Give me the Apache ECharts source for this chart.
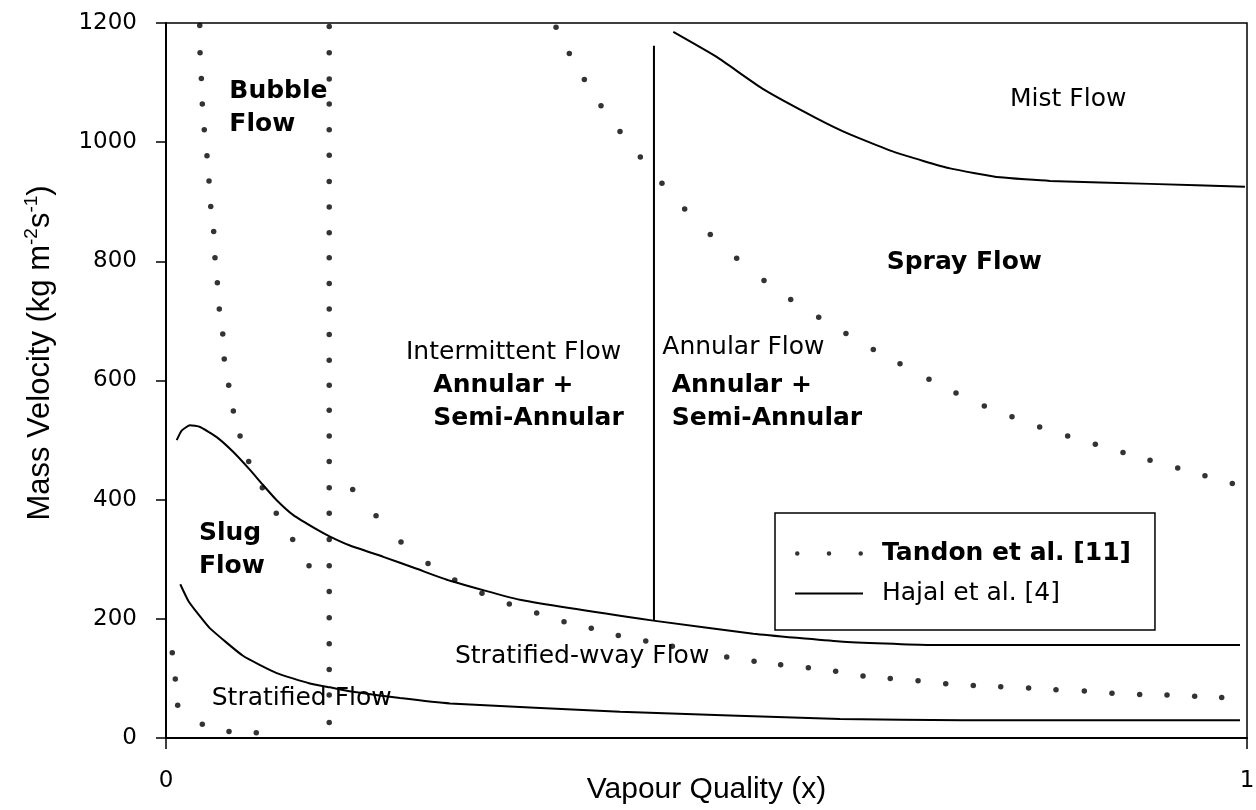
<!DOCTYPE html>
<html>
<head>
<meta charset="utf-8">
<title>Flow pattern map</title>
<script src="https://cdn.jsdelivr.net/npm/echarts@6/dist/echarts.min.js"></script>
<style>
  html, body { margin: 0; padding: 0; background: #fff; }
  #chart { width: 1256px; height: 810px; }
</style>
</head>
<body>
<div id="chart"></div>
<script>
// Tandon et al. [11] - dotted boundaries, [x, G]
const tandonBubbleEdge = [
  [0.0312, 1196], [0.0315, 1150], [0.0327, 1107], [0.0336, 1064], [0.0354, 1021],
  [0.0379, 977], [0.0398, 935], [0.0414, 892], [0.0441, 850], [0.0453, 806],
  [0.0475, 764], [0.0493, 720], [0.0525, 678], [0.0539, 636], [0.058, 592],
  [0.0623, 549], [0.0685, 507], [0.0765, 464], [0.0891, 420], [0.102, 377],
  [0.1172, 333], [0.1323, 289]
];
const tandonVertical = [
  [0.151, 1194], [0.151, 1150], [0.151, 1106], [0.151, 1064], [0.151, 1021],
  [0.151, 978], [0.151, 934], [0.151, 891], [0.151, 848], [0.151, 806],
  [0.151, 763], [0.151, 720], [0.151, 677], [0.151, 634], [0.151, 592],
  [0.151, 550], [0.151, 507], [0.151, 464], [0.151, 420], [0.151, 377],
  [0.151, 333], [0.151, 289], [0.151, 246], [0.151, 202], [0.151, 158],
  [0.151, 115], [0.151, 72], [0.151, 26]
];
const tandonWavy = [
  [0.1727, 417], [0.1943, 373], [0.2174, 329], [0.2424, 293], [0.2671, 265],
  [0.2923, 243], [0.3176, 225], [0.3429, 210], [0.3682, 195], [0.3934, 184],
  [0.4184, 172], [0.4438, 163], [0.4684, 154], [0.5187, 136], [0.544, 129],
  [0.5686, 123], [0.5942, 118], [0.6195, 112], [0.6448, 104], [0.67, 100],
  [0.6957, 96], [0.7213, 91], [0.7468, 88], [0.7722, 86], [0.798, 84],
  [0.8233, 81], [0.8495, 79], [0.8751, 75], [0.9007, 73], [0.926, 72],
  [0.9516, 70], [0.9766, 68]
];
const tandonStratified = [
  [0.0058, 143], [0.0086, 99], [0.0108, 55], [0.0336, 23], [0.0583, 11], [0.0835, 9]
];
const tandonAnnular = [
  [0.3608, 1193], [0.3731, 1149], [0.387, 1105], [0.4024, 1061], [0.42, 1018],
  [0.4388, 975], [0.4588, 931], [0.4798, 888], [0.5035, 845], [0.5279, 805],
  [0.5532, 768], [0.5779, 736], [0.6038, 706], [0.629, 679], [0.6543, 652],
  [0.679, 628], [0.7058, 602], [0.7308, 579], [0.757, 557], [0.7826, 539],
  [0.8082, 522], [0.8341, 507], [0.8597, 493], [0.8853, 479], [0.9103, 466],
  [0.9359, 453], [0.9611, 440], [0.9864, 427]
];

// Hajal et al. [4] - solid boundaries
const hajalMist = [
  [0.4693, 1185], [0.5094, 1143], [0.5525, 1089], [0.6019, 1040], [0.6327, 1013],
  [0.676, 982], [0.7253, 956], [0.7715, 941], [0.8178, 935], [0.9103, 930], [0.9981, 925]
];
const hajalIntermittent = [
  [0.0099, 500], [0.0145, 516], [0.0222, 525], [0.0315, 522], [0.0469, 505],
  [0.0623, 480], [0.0777, 450], [0.0891, 426], [0.1024, 399], [0.1178, 374],
  [0.1394, 350], [0.1517, 338], [0.1702, 323], [0.201, 304], [0.2319, 284],
  [0.2627, 264], [0.3275, 232], [0.4508, 197], [0.5433, 175], [0.6235, 162],
  [0.7068, 156], [0.9935, 156]
];
const hajalStratified = [
  [0.0132, 258], [0.0207, 230], [0.0315, 204], [0.0407, 184], [0.0712, 138],
  [0.1024, 109], [0.1323, 92], [0.1517, 85], [0.1716, 78], [0.2165, 67],
  [0.2627, 58], [0.42, 44], [0.6235, 32], [0.737, 30], [0.9935, 30]
];
const hajalAnnularEdge = [[0.4514, 197], [0.4514, 1162]];

// axis
const yTicks = [0, 200, 400, 600, 800, 1000, 1200];

// region labels: [x, G of first line, text, bold]
const regionLabels = [
  [0.0586, 1085, 'Bubble\nFlow', true],
  [0.0305, 344, 'Slug\nFlow', true],
  [0.0423, 67, 'Stratified Flow', false],
  [0.2220, 647, 'Intermittent Flow', false],
  [0.2473, 591, 'Annular +\nSemi-Annular', true],
  [0.4591, 656, 'Annular Flow', false],
  [0.4678, 591, 'Annular +\nSemi-Annular', true],
  [0.7808, 1072, 'Mist Flow', false],
  [0.6667, 798, 'Spray Flow', true],
  [0.2673, 136, 'Stratified-wvay Flow', false]
];

const TANDON = 'Tandon et al. [11]';
const HAJAL = 'Hajal et al. [4]';
const tickFont = 'DejaVu Sans';
const titleFont = 'Liberation Sans';

const chart = echarts.init(document.getElementById('chart'));

function dots(data) {
  return {
    name: TANDON,
    type: 'scatter',
    data: data,
    symbol: 'circle',
    symbolSize: 5.5,
    itemStyle: { color: '#000' },
    z: 3
  };
}

function solid(data, smooth) {
  return {
    name: HAJAL,
    type: 'line',
    data: data,
    symbol: 'none',
    smooth: smooth,
    lineStyle: { color: '#000', width: 2 },
    itemStyle: { color: '#000' },
    z: 2
  };
}

const option = {
  animation: false,
  backgroundColor: '#fff',
  grid: {
    left: 166, right: 9, top: 23, bottom: 72,
    outerBoundsMode: 'none',
    show: true, borderColor: '#000', borderWidth: 1.5, backgroundColor: 'transparent'
  },
  xAxis: {
    type: 'value',
    min: 0, max: 1, interval: 1,
    name: 'Vapour Quality (x)',
    nameLocation: 'middle',
    nameGap: 37,
    nameMoveOverlap: false,
    nameTextStyle: { fontFamily: titleFont, fontSize: 30, color: '#000' },
    axisLine: { lineStyle: { color: '#000', width: 2 } },
    axisTick: { show: true, length: 11, lineStyle: { color: '#000', width: 1.5 } },
    axisLabel: { margin: 32, fontFamily: tickFont, fontSize: 23, color: '#000' },
    splitLine: { show: false }
  },
  yAxis: {
    type: 'value',
    min: yTicks[0], max: yTicks[yTicks.length - 1], interval: 200,
    axisLine: { show: true, lineStyle: { color: '#000', width: 2 } },
    axisTick: { show: true, length: 10, lineStyle: { color: '#000', width: 1.5 } },
    axisLabel: {
      margin: 29, fontFamily: tickFont, fontSize: 23, color: '#000',
      formatter: function (v) { return String(v); }
    },
    splitLine: { show: false }
  },
  legend: {
    orient: 'vertical',
    left: 775, top: 513,
    borderColor: '#000', borderWidth: 1.5,
    backgroundColor: '#fff',
    padding: [28, 24, 24, 20],
    itemGap: 15,
    itemWidth: 68,
    itemHeight: 14,
    data: [
      { name: TANDON, icon: 'path://M0,2A2,2,0,1,1,4,2A2,2,0,1,1,0,2ZM28,2A2,2,0,1,1,32,2A2,2,0,1,1,28,2ZM56,2A2,2,0,1,1,60,2A2,2,0,1,1,56,2Z' },
      { name: HAJAL, icon: 'path://M0,0H68V2H0Z' }
    ],
    formatter: function (name) {
      return name === TANDON ? '{b|' + name + '}' : '{n|' + name + '}';
    },
    textStyle: {
      color: '#000',
      rich: {
        b: { fontFamily: tickFont, fontSize: 25, fontWeight: 'bold', lineHeight: 30, padding: [0, 0, 0, 14] },
        n: { fontFamily: tickFont, fontSize: 25, lineHeight: 30, padding: [0, 0, 0, 14] }
      }
    }
  },
  series: [
    dots(tandonBubbleEdge),
    dots(tandonVertical),
    dots(tandonWavy),
    dots(tandonStratified),
    dots(tandonAnnular),
    solid(hajalMist, 0.15),
    solid(hajalIntermittent, 0.15),
    solid(hajalStratified, 0.15),
    solid(hajalAnnularEdge, false)
  ]
};

chart.setOption(option);

// region names and the y-axis title
const graphics = regionLabels.map(function (r) {
  const p = chart.convertToPixel({ gridIndex: 0 }, [r[0], r[1]]);
  return {
    type: 'text',
    x: p[0],
    y: p[1] - 16.5,
    z: 10,
    style: {
      text: r[2],
      fontFamily: tickFont,
      fontSize: 25,
      fontWeight: r[3] ? 'bold' : 'normal',
      lineHeight: 33,
      fill: '#000',
      align: 'left',
      verticalAlign: 'top'
    }
  };
});

graphics.push({
  type: 'text',
  x: 40,
  y: 353,
  rotation: Math.PI / 2,
  style: {
    text: 'Mass Velocity (kg m{sup|-2}s{sup|-1})',
    fontFamily: titleFont,
    fontSize: 31,
    lineHeight: 36,
    fill: '#000',
    align: 'center',
    verticalAlign: 'middle',
    rich: {
      sup: { fontFamily: titleFont, fontSize: 19, lineHeight: 19, verticalAlign: 'top' }
    }
  }
});

chart.setOption({ graphic: graphics });
</script>
</body>
</html>
